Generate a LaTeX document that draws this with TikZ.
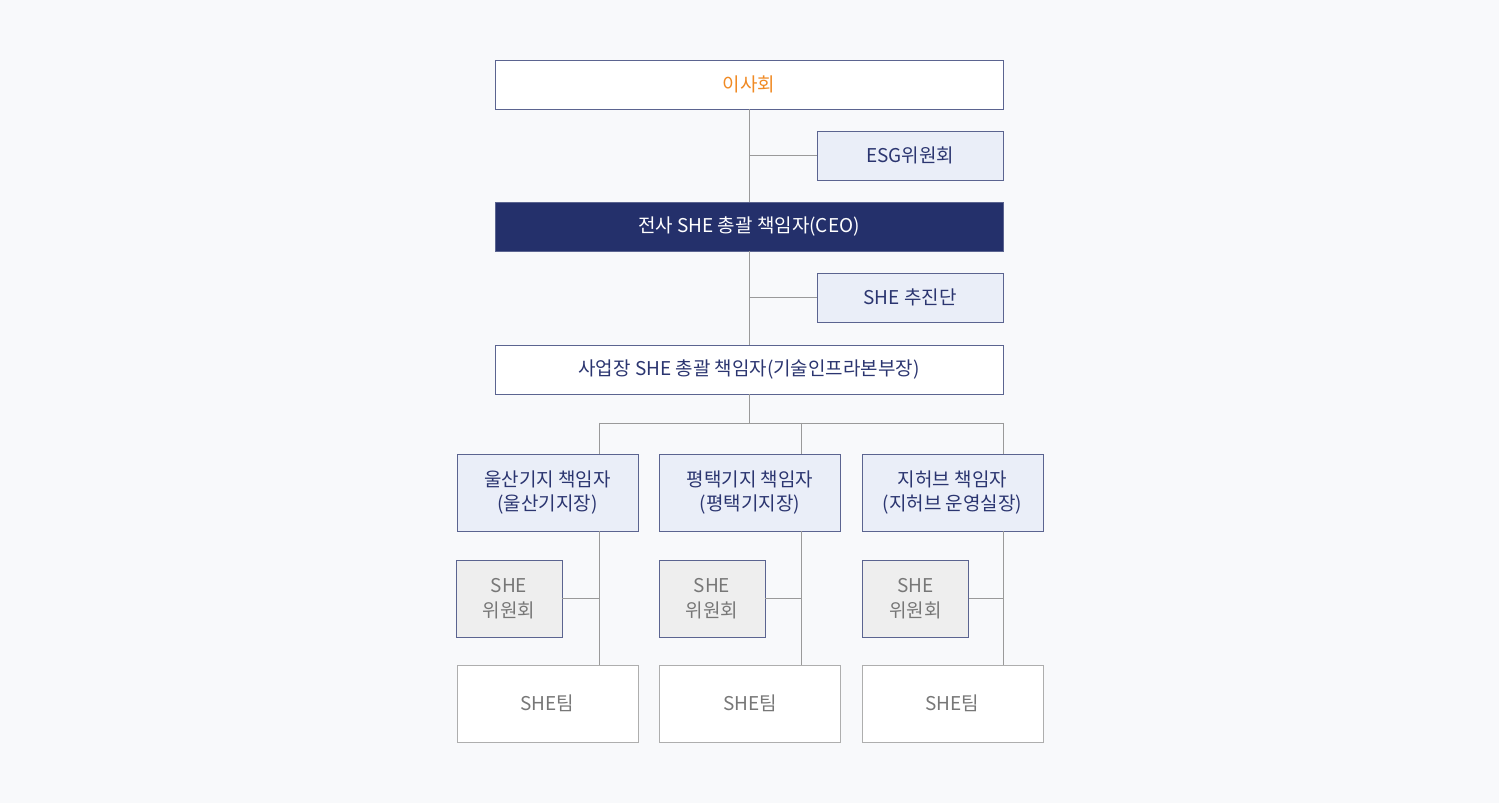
\documentclass[tikz,border=0pt]{standalone}
\usepackage{fontspec}
\setmainfont{Noto Sans CJK KR}
\definecolor{pagebg}{HTML}{F8F9FB}
\definecolor{navy}{HTML}{24306B}
\definecolor{navytxt}{HTML}{2B3570}
\definecolor{paleblue}{HTML}{EAEEF8}
\definecolor{palegray}{HTML}{EEEEEE}
\definecolor{linegray}{HTML}{9A9A9A}
\definecolor{txtgray}{HTML}{777777}
\definecolor{boardorange}{HTML}{F08A24}

\begin{document}
\begin{tikzpicture}[
  line width=0.5pt,
  box/.style={draw=navy!75,fill=white,text=navytxt,inner sep=0,align=center,
    font=\fontsize{10.8}{14.2}\selectfont},
  widebox/.style={box,minimum width=10.16cm,minimum height=0.98cm},
  sidebox/.style={box,fill=paleblue,minimum width=3.72cm,minimum height=0.98cm},
  headbox/.style={box,fill=paleblue,minimum width=3.62cm,minimum height=1.54cm},
  cmtbox/.style={box,fill=palegray,text=txtgray,minimum width=2.12cm,minimum height=1.54cm},
  teambox/.style={box,draw=linegray!80,text=txtgray,minimum width=3.62cm,minimum height=1.54cm},
  wire/.style={draw=linegray,line width=0.5pt}
  ]

  \fill[pagebg] (0, 0) rectangle (29.98, -16.06);
  \useasboundingbox (0, 0) rectangle (29.98, -16.06);

  % top of the chart
  \node [widebox,text=boardorange] (board) at (14.98, -1.69) {이사회};
  \node [sidebox] (esg) at (18.2, -3.11) {ESG위원회};
  \node [widebox,fill=navy,text=white] (ceo) at (14.98, -4.53) {전사 SHE 총괄 책임자(CEO)};
  \node [sidebox] (push) at (18.2, -5.95) {SHE 추진단};
  \node [widebox] (site) at (14.98, -7.39) {사업장 SHE 총괄 책임자(기술인프라본부장)};

  \draw[wire] (board) -- (ceo);
  \draw[wire] (ceo) -- (site);
  \draw[wire] (esg.west) -- (esg.west -| board.south);
  \draw[wire] (push.west) -- (push.west -| ceo.south);

  % bases
  \coordinate (br1) at (11.98, -8.46);
  \coordinate (br2) at (16.02, -8.46);
  \coordinate (br3) at (20.06, -8.46);
  \draw[wire] (site.south) -- (site.south |- br1);
  \draw[wire] (br1) -- (br3);

  \foreach \i/\x/\cx/\ttl in {
      1/10.95/10.18/{울산기지 책임자\\(울산기지장)},
      2/15.0/14.24/{평택기지 책임자\\(평택기지장)},
      3/19.05/18.31/{지허브 책임자\\(지허브 운영실장)}} {
    \node [headbox] (head\i) at (\x, -9.85) {\ttl};
    \node [cmtbox] (cmt\i) at (\cx, -11.97) {SHE\\위원회};
    \node [teambox] (team\i) at (\x, -14.07) {SHE팀};
    \draw[wire] (br\i) -- (br\i |- head\i.north);
    \draw[wire] (br\i |- head\i.south) -- (br\i |- team\i.north);
    \draw[wire] (cmt\i.east) -- (cmt\i.east -| br\i);
  }

\end{tikzpicture}
\end{document}
